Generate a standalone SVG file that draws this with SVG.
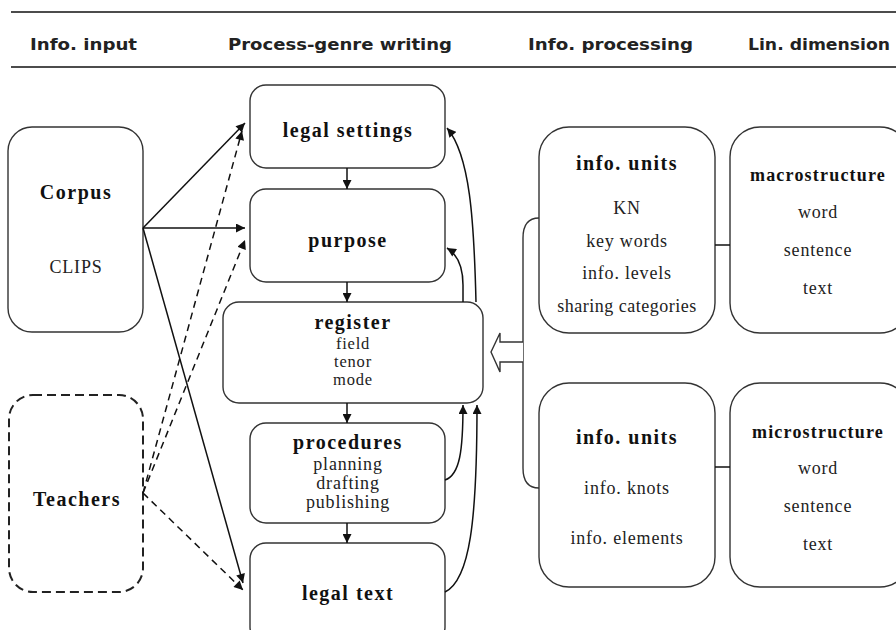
<svg xmlns="http://www.w3.org/2000/svg" width="896" height="630" viewBox="0 0 896 630">
<defs>
<marker id="ah" viewBox="0 0 10 10" refX="10" refY="5" markerWidth="10" markerHeight="9" markerUnits="userSpaceOnUse" orient="auto"><path d="M0,0 L10,5 L0,10 z" fill="#111" stroke="none"/></marker>
<style>
.hd{font-family:"DejaVu Sans Condensed","DejaVu Sans",sans-serif;font-weight:bold;font-size:16px;fill:#222}
.box{fill:#fff;stroke:#333;stroke-width:1.4}
.dbox{fill:#fff;stroke:#222;stroke-width:2;stroke-dasharray:9 5}
.b{font-family:"Liberation Serif","Times New Roman",serif;font-weight:bold;font-size:20px;letter-spacing:1.5px;fill:#111;text-anchor:middle}
.b2{font-family:"Liberation Serif","Times New Roman",serif;font-weight:bold;font-size:18px;letter-spacing:1.2px;fill:#111;text-anchor:middle}
.r{font-family:"Liberation Serif","Times New Roman",serif;font-size:18px;letter-spacing:0.8px;fill:#222;text-anchor:middle}
.rs{font-family:"Liberation Serif","Times New Roman",serif;font-size:16.5px;letter-spacing:0.8px;fill:#222;text-anchor:middle}
.ln{fill:none;stroke:#111;stroke-width:1.5}
.dl{fill:none;stroke:#111;stroke-width:1.5;stroke-dasharray:7 5}
</style>
</defs>
<rect width="896" height="630" fill="#fff"/>
<g id="header">
<line x1="11" y1="12" x2="896" y2="12" stroke="#111" stroke-width="1.5"/>
<line x1="11" y1="67" x2="896" y2="67" stroke="#111" stroke-width="1.5"/>
<text class="hd" x="30" y="50" textLength="107" lengthAdjust="spacingAndGlyphs">Info. input</text>
<text class="hd" x="228" y="50" textLength="224" lengthAdjust="spacingAndGlyphs">Process-genre writing</text>
<text class="hd" x="528" y="50" textLength="165" lengthAdjust="spacingAndGlyphs">Info. processing</text>
<text class="hd" x="748" y="50" textLength="142" lengthAdjust="spacingAndGlyphs">Lin. dimension</text>
</g>
<g id="corpus">
<rect class="box" x="8" y="127" width="135" height="205" rx="24"/>
<text class="b" x="76" y="199">Corpus</text>
<text class="r" x="76" y="273">CLIPS</text>
</g>
<g id="teachers">
<rect class="dbox" x="9" y="395" width="134" height="197" rx="24"/>
<text class="b" x="77" y="506">Teachers</text>
</g>
<g id="legal-settings">
<rect class="box" x="250" y="85" width="195" height="83" rx="16"/>
<text class="b" x="348" y="137">legal settings</text>
</g>
<g id="purpose">
<rect class="box" x="250" y="189" width="195" height="93" rx="16"/>
<text class="b" x="348" y="247">purpose</text>
</g>
<g id="register">
<rect class="box" x="223" y="302" width="260" height="101" rx="16"/>
<text class="b" x="353" y="329">register</text>
<text class="rs" x="353" y="349">field</text>
<text class="rs" x="353" y="367">tenor</text>
<text class="rs" x="353" y="385">mode</text>
</g>
<g id="procedures">
<rect class="box" x="250" y="423" width="195" height="100" rx="16"/>
<text class="b" x="348" y="449">procedures</text>
<text class="r" x="348" y="470">planning</text>
<text class="r" x="348" y="489">drafting</text>
<text class="r" x="348" y="508">publishing</text>
</g>
<g id="legal-text">
<rect class="box" x="250" y="543" width="195" height="100" rx="16"/>
<text class="b" x="348" y="600">legal text</text>
</g>
<g id="info-units-1">
<rect class="box" x="539" y="127" width="176" height="206" rx="30"/>
<text class="b" x="627" y="170">info. units</text>
<text class="r" x="627" y="214">KN</text>
<text class="r" x="627" y="247">key words</text>
<text class="r" x="627" y="279">info. levels</text>
<text class="r" x="627" y="312" style="letter-spacing:0.5px">sharing categories</text>
</g>
<g id="macrostructure">
<rect class="box" x="730" y="127" width="180" height="206" rx="30"/>
<text class="b2" x="818" y="181">macrostructure</text>
<text class="r" x="818" y="218">word</text>
<text class="r" x="818" y="256">sentence</text>
<text class="r" x="818" y="294">text</text>
</g>
<g id="info-units-2">
<rect class="box" x="539" y="383" width="176" height="204" rx="30"/>
<text class="b" x="627" y="444">info. units</text>
<text class="r" x="627" y="494">info. knots</text>
<text class="r" x="627" y="544">info. elements</text>
</g>
<g id="microstructure">
<rect class="box" x="730" y="383" width="180" height="204" rx="30"/>
<text class="b2" x="818" y="438">microstructure</text>
<text class="r" x="818" y="474">word</text>
<text class="r" x="818" y="512">sentence</text>
<text class="r" x="818" y="550">text</text>
</g>
<g id="connectors">
<line class="ln" x1="143" y1="228" x2="245" y2="123" marker-end="url(#ah)"/>
<line class="ln" x1="143" y1="228" x2="245" y2="228" marker-end="url(#ah)"/>
<line class="ln" x1="143" y1="228" x2="243" y2="583" marker-end="url(#ah)"/>
<line class="dl" x1="143" y1="493" x2="242" y2="131" marker-end="url(#ah)"/>
<line class="dl" x1="143" y1="493" x2="245" y2="240" marker-end="url(#ah)"/>
<line class="dl" x1="143" y1="493" x2="243" y2="590" marker-end="url(#ah)"/>
<line class="ln" x1="347" y1="168" x2="347" y2="189" marker-end="url(#ah)"/>
<line class="ln" x1="347" y1="282" x2="347" y2="302" marker-end="url(#ah)"/>
<line class="ln" x1="347" y1="403" x2="347" y2="423" marker-end="url(#ah)"/>
<line class="ln" x1="347" y1="523" x2="347" y2="543" marker-end="url(#ah)"/>
<path class="ln" d="M463,302 L463,285 Q463,258 447,248" marker-end="url(#ah)"/>
<path class="ln" d="M476,302 C474,220 470,155 447,128" marker-end="url(#ah)"/>
<path class="ln" d="M445,480 C460,475 463,450 463,405" marker-end="url(#ah)"/>
<path class="ln" d="M445,592 C470,580 477,520 477,405" marker-end="url(#ah)"/>
<line class="ln" x1="715" y1="245" x2="730" y2="245"/>
<line class="ln" x1="715" y1="467" x2="730" y2="467"/>
<path d="M539,218 Q523,218 523,238 L523,468 Q523,488 539,488" fill="none" stroke="#333" stroke-width="1.4"/>
<path d="M523,342 L500,342 L500,333 L491,352 L500,372 L500,362 L523,362" fill="#fff" stroke="#333" stroke-width="1.4"/>
</g>
</svg>
